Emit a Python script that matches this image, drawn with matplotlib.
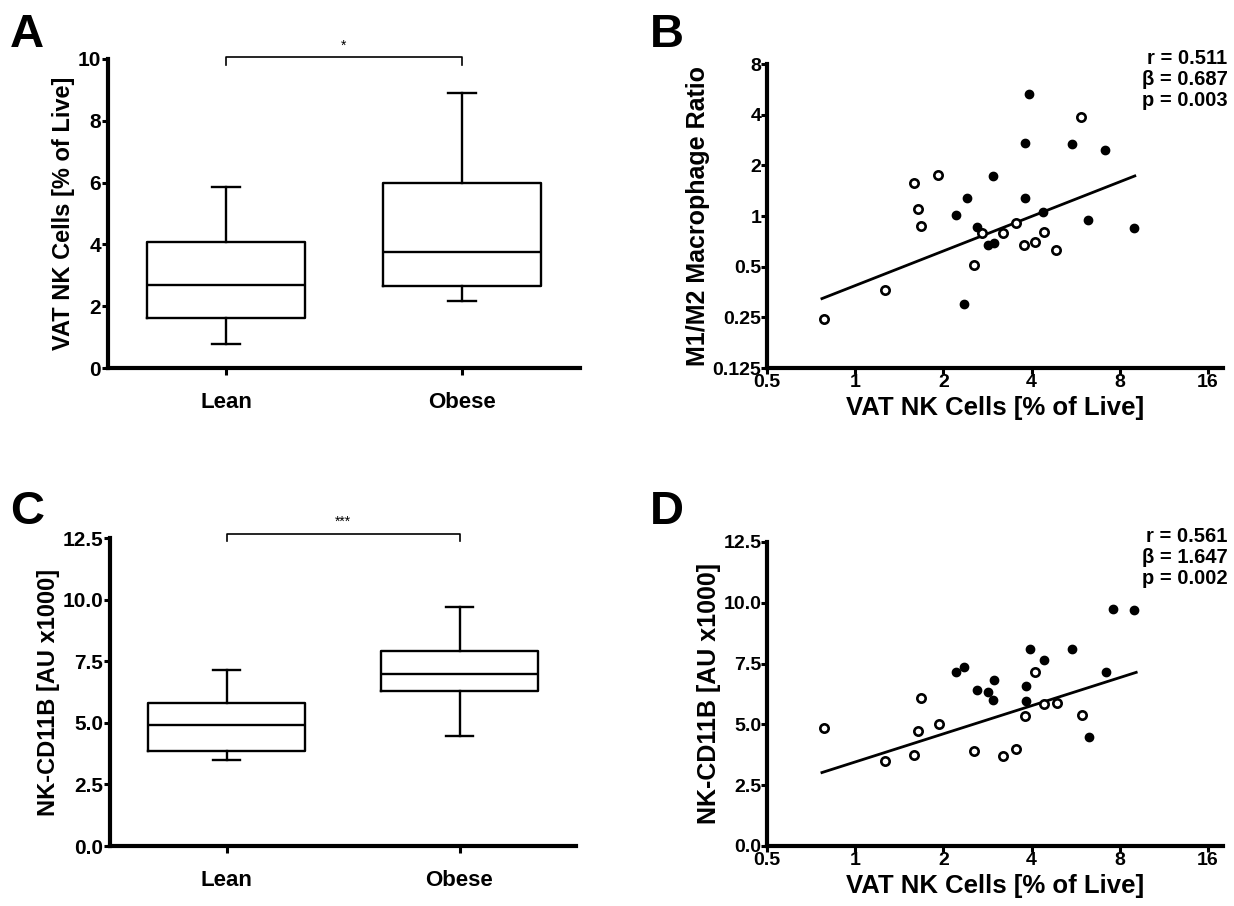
import matplotlib
matplotlib.use('Agg')
import matplotlib.pyplot as plt
import numpy as np
from matplotlib.ticker import FixedLocator, FixedFormatter, NullLocator

plt.rcParams['font.family'] = ['Liberation Sans', 'DejaVu Sans']
plt.rcParams['font.weight'] = 'bold'
plt.rcParams['axes.labelweight'] = 'bold'

# ---------------- data ----------------
groups = ['Lean', 'Obese']
# box stats: [whisker low, Q1, median, Q3, whisker high]
nk_lean = [0.77, 1.63, 2.67, 4.07, 5.87]
nk_obese = [2.18, 2.64, 3.77, 5.99, 8.90]
cd11b_lean = [3.50, 3.84, 4.93, 5.82, 7.13]
cd11b_obese = [4.47, 6.31, 6.97, 7.93, 9.70]

# panel B scatter (open = lean, filled = obese)
b_lean_x = [0.78, 1.26, 1.59, 1.92, 1.64, 1.68, 2.54, 2.70, 3.19, 3.54, 3.78, 4.11, 4.41, 4.85, 5.90]
b_lean_y = [0.243, 0.364, 1.58, 1.75, 1.10, 0.87, 0.51, 0.79, 0.79, 0.91, 0.67, 0.70, 0.80, 0.63, 3.89]
b_obese_x = [3.93, 3.81, 5.48, 7.14, 2.95, 2.41, 3.81, 2.20, 4.39, 6.22, 8.93, 2.61, 2.83, 2.98, 2.35]
b_obese_y = [5.31, 2.73, 2.68, 2.45, 1.72, 1.28, 1.28, 1.02, 1.06, 0.95, 0.85, 0.86, 0.67, 0.69, 0.30]
b_fit_x = [0.77, 9.0]
b_fit_y = [0.323, 1.73]
b_stats = ['r = 0.511', 'β = 0.687', 'p = 0.003']

# panel D scatter
d_lean_x = [0.78, 1.26, 1.59, 1.64, 1.68, 1.93, 2.54, 3.19, 3.55, 3.81, 4.12, 4.42, 4.88, 5.94]
d_lean_y = [4.86, 3.51, 3.73, 4.72, 6.07, 5.03, 3.91, 3.70, 3.97, 5.36, 7.17, 5.84, 5.87, 5.37]
d_obese_x = [2.20, 2.35, 2.61, 2.83, 2.98, 2.95, 3.82, 3.82, 3.96, 4.40, 5.50, 6.26, 7.19, 7.61, 8.94]
d_obese_y = [7.14, 7.37, 6.43, 6.32, 6.84, 6.02, 6.58, 5.98, 8.09, 7.66, 8.09, 4.48, 7.14, 9.75, 9.70]
d_fit_x = [0.77, 9.1]
d_fit_y = [3.02, 7.14]
d_stats = ['r = 0.561', 'β = 1.647', 'p = 0.002']

log_ticks = [0.5, 1, 2, 4, 8, 16]
log_ticklabels = ['0.5', '1', '2', '4', '8', '16']
ratio_ticks = [0.125, 0.25, 0.5, 1, 2, 4, 8]
ratio_ticklabels = ['0.125', '0.25', '0.5', '1', '2', '4', '8']
nk_ticks = [0, 2, 4, 6, 8, 10]
cd_ticks = [0, 2.5, 5.0, 7.5, 10.0, 12.5]

W, H = 1234, 906
fig = plt.figure(figsize=(W / 100, H / 100), dpi=100)


def px_axes(l, r, t, b):
    return fig.add_axes([l / W, 1 - b / H, (r - l) / W, (b - t) / H])


def style(ax):
    for s in ['top', 'right']:
        ax.spines[s].set_visible(False)
    for s in ['left', 'bottom']:
        ax.spines[s].set_linewidth(3.0)
        ax.spines[s].set_color('black')
    ax.tick_params(axis='both', which='major', width=2.2, length=4, colors='black')
    ax.tick_params(axis='both', which='minor', length=0)


def box_panel(ax, lean, obese, yticks, yticklabels, ylim, ylabel, bracket_y, stars):
    stats = []
    for name, v in zip(groups, [lean, obese]):
        stats.append(dict(label=name, whislo=v[0], q1=v[1], med=v[2], q3=v[3], whishi=v[4], fliers=[]))
    lw = 1.7
    ax.bxp(stats, positions=[0, 1], widths=0.67, showfliers=False,
           boxprops=dict(linewidth=lw, color='black'),
           medianprops=dict(linewidth=lw, color='black'),
           whiskerprops=dict(linewidth=lw, color='black'),
           capprops=dict(linewidth=lw, color='black'),
           capwidths=0.12)
    ax.set_xlim(-0.5, 1.5)
    ax.set_ylim(*ylim)
    ax.set_yticks(yticks)
    ax.set_yticklabels(yticklabels, fontsize=15, fontweight='bold')
    ax.set_xticks([0, 1])
    ax.set_xticklabels(groups, fontsize=16, fontweight='bold')
    style(ax)
    ax.tick_params(axis='x', length=5, pad=12)
    ax.tick_params(axis='y', pad=1)
    ax.set_ylabel(ylabel, fontsize=17, fontweight='bold', labelpad=2)
    # significance bracket
    d = (ylim[1] - ylim[0]) * 0.025
    ax.plot([0, 0, 1, 1], [bracket_y - d, bracket_y, bracket_y, bracket_y - d],
            color='black', lw=1.2, clip_on=False)
    ax.text(0.5, bracket_y + d * 0.6, stars, ha='center', va='bottom', fontsize=10,
            fontweight='normal')


def scatter_panel(ax, lx, ly, ox, oy, fx, fy, stats_txt, yscale_log, yticks, yticklabels, ylim, ylabel):
    ax.set_xscale('log', base=2)
    if yscale_log:
        ax.set_yscale('log', base=2)
    ax.plot(fx, fy, color='black', lw=2.0, zorder=2)
    ax.plot(lx, ly, linestyle='none', marker='o', markersize=6, markerfacecolor='white',
            markeredgecolor='black', markeredgewidth=1.9, zorder=3)
    ax.plot(ox, oy, linestyle='none', marker='o', markersize=6, markerfacecolor='black',
            markeredgecolor='black', markeredgewidth=1.0, zorder=3)
    ax.set_xlim(0.5, 18.0)
    ax.set_ylim(*ylim)
    ax.xaxis.set_major_locator(FixedLocator(log_ticks))
    ax.xaxis.set_major_formatter(FixedFormatter(log_ticklabels))
    ax.xaxis.set_minor_locator(NullLocator())
    ax.yaxis.set_major_locator(FixedLocator(yticks))
    ax.yaxis.set_major_formatter(FixedFormatter(yticklabels))
    ax.yaxis.set_minor_locator(NullLocator())
    for lab in ax.get_xticklabels() + ax.get_yticklabels():
        lab.set_fontsize(14)
        lab.set_fontweight('bold')
    style(ax)
    ax.tick_params(axis='x', length=4, pad=0)
    ax.tick_params(axis='y', length=4, pad=0)
    ax.set_xlabel('VAT NK Cells [% of Live]', fontsize=18.5, fontweight='bold', labelpad=4)
    ax.set_ylabel(ylabel, fontsize=18, fontweight='bold', labelpad=2)
    ax.text(1.01, 1.05, '\n'.join(stats_txt), transform=ax.transAxes, ha='right', va='top',
            fontsize=14.5, fontweight='bold', linespacing=1.15)


axA = px_axes(108, 580, 59, 368)
box_panel(axA, nk_lean, nk_obese, nk_ticks, [str(t) for t in nk_ticks], (0, 10),
          'VAT NK Cells [% of Live]', 10.05, '*')

axC = px_axes(110, 576, 538, 846)
box_panel(axC, cd11b_lean, cd11b_obese, cd_ticks, ['%.1f' % t for t in cd_ticks], (0, 12.5),
          'NK-CD11B [AU x1000]', 12.68, '***')

axB = px_axes(767, 1223, 64, 368)
scatter_panel(axB, b_lean_x, b_lean_y, b_obese_x, b_obese_y, b_fit_x, b_fit_y, b_stats,
              True, ratio_ticks, ratio_ticklabels, (0.125, 8), 'M1/M2 Macrophage Ratio')

axD = px_axes(767, 1223, 542, 846)
scatter_panel(axD, d_lean_x, d_lean_y, d_obese_x, d_obese_y, d_fit_x, d_fit_y, d_stats,
              False, cd_ticks, ['%.1f' % t for t in cd_ticks], (0, 12.5), 'NK-CD11B [AU x1000]')

for letter, x, y in [('A', 10, 13), ('B', 650, 13), ('C', 10, 490), ('D', 650, 490)]:
    fig.text(x / W, 1 - y / H, letter, fontsize=34, fontweight='bold', ha='left', va='top')

fig.savefig('out.png', dpi=100)
